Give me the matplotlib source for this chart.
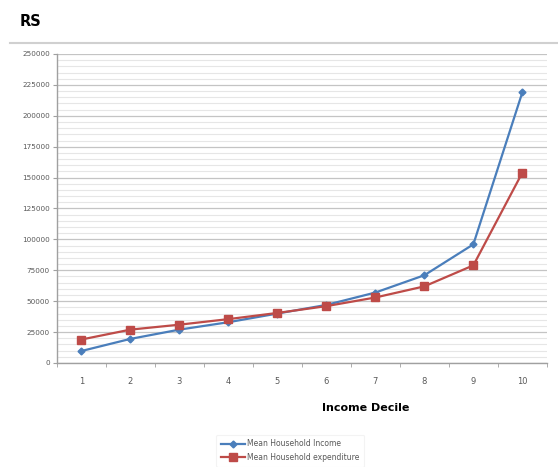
import matplotlib
matplotlib.use("Agg")
import matplotlib.pyplot as plt
from matplotlib.ticker import MultipleLocator, FixedLocator, NullFormatter

deciles = [1, 2, 3, 4, 5, 6, 7, 8, 9, 10]
income = [9700, 19500, 27000, 33000, 40000, 47000, 57000, 71000, 96000, 219000]
expenditure = [19000, 27000, 31000, 35500, 40500, 46000, 53000, 62000, 79000, 154000]
ytick_values = [0, 25000, 50000, 75000, 100000, 125000, 150000, 175000, 200000, 225000, 250000]

fig = plt.figure(figsize=(5.58, 4.67), dpi=100)
ax = fig.add_axes([0.102, 0.2227, 0.878, 0.6617])

ax.plot(deciles, income, color="#4A7EBB", lw=1.6, marker="D", ms=3.5,
        label="Mean Household Income")
ax.plot(deciles, expenditure, color="#BE4B48", lw=1.6, marker="s", ms=5.5,
        label="Mean Household expenditure")

ax.set_xlim(0.5, 10.5)
ax.set_ylim(0, 250000)
ax.set_yticks(ytick_values)
ax.set_yticklabels([str(v) for v in ytick_values])
ax.yaxis.set_minor_locator(MultipleLocator(5000))
ax.grid(axis="y", which="major", color="#C4C4C4", lw=0.9)
ax.grid(axis="y", which="minor", color="#E6E6E6", lw=0.8)
ax.set_axisbelow(True)

ax.set_xticks(deciles)
ax.set_xticklabels([str(d) for d in deciles])
ax.xaxis.set_minor_locator(FixedLocator([d + 0.5 for d in [0] + deciles]))
ax.xaxis.set_minor_formatter(NullFormatter())
ax.tick_params(axis="x", which="major", length=0, pad=10, labelsize=6, labelcolor="#595959")
ax.tick_params(axis="x", which="minor", length=3, color="#A0A0A0")
ax.tick_params(axis="y", which="major", length=3, color="#A0A0A0", labelsize=5.2,
               labelcolor="#595959", pad=2)
ax.tick_params(axis="y", which="minor", length=0)

for s in ["top", "right"]:
    ax.spines[s].set_visible(False)
for s in ["left", "bottom"]:
    ax.spines[s].set_color("#A0A0A0")
    ax.spines[s].set_linewidth(1.0)

fig.text(0.036, 0.955, "RS", fontsize=10.5, fontweight="bold", va="center", ha="left")
fig.add_artist(plt.Line2D([0.018, 1.0], [0.908, 0.908], color="#D0D0D0", lw=1.5,
                          transform=fig.transFigure))
fig.text(0.655, 0.127, "Income Decile", fontsize=8, fontweight="bold", ha="center", va="center")

leg = fig.legend(loc="center", bbox_to_anchor=(0.52, 0.035), fontsize=5.5, frameon=True,
                 handlelength=3.2, handletextpad=0.3, labelspacing=0.6, borderpad=0.6)
leg.get_frame().set_edgecolor("#F0F0F0")
leg.get_frame().set_linewidth(0.8)
for t in leg.get_texts():
    t.set_color("#595959")

fig.savefig("out.png", dpi=100)
